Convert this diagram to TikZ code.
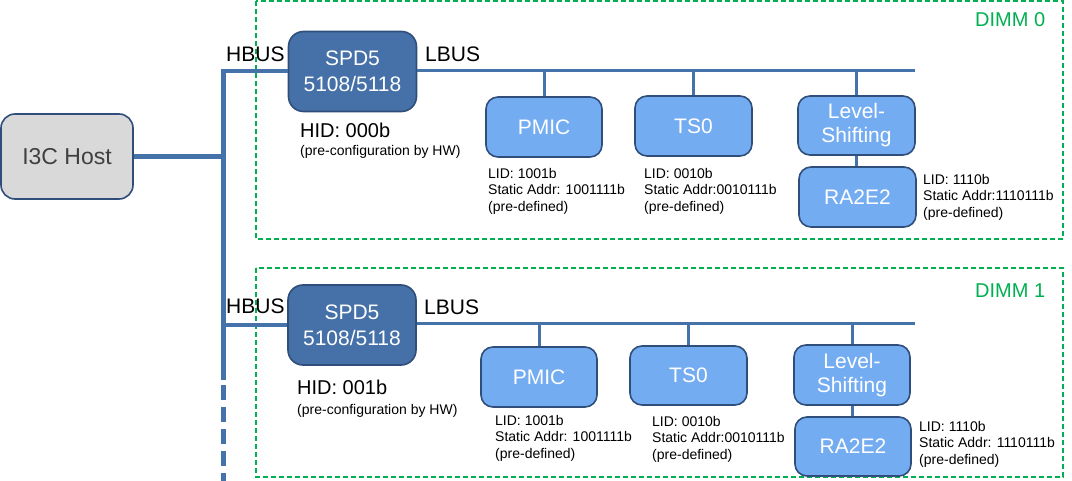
\documentclass[tikz,border=0pt]{standalone}
\usepackage{fontspec}
\setmainfont{Liberation Sans}
\definecolor{buscol}{RGB}{70,114,170}
\definecolor{darkfill}{RGB}{69,112,168}
\definecolor{boxborder}{RGB}{47,78,122}
\definecolor{lightfill}{RGB}{116,172,242}
\definecolor{hostfill}{RGB}{217,217,217}
\definecolor{hosttext}{RGB}{64,64,64}
\definecolor{dimmgreen}{RGB}{0,176,80}
\begin{document}
\begin{tikzpicture}[x=1pt,y=-1pt,
  basebox/.style={draw=boxborder,line width=1.6pt,inner sep=0pt,align=center},
  hostbox/.style={basebox,fill=hostfill,text=hosttext,rounded corners=14pt,minimum width=132pt,minimum height=85pt,font=\fontsize{23}{27}\selectfont},
  spdbox/.style={basebox,fill=darkfill,text=white,rounded corners=15pt,minimum width=128pt,minimum height=80pt,font=\fontsize{21}{26}\selectfont},
  devbox/.style={basebox,fill=lightfill,text=white,rounded corners=12pt,minimum width=116pt,minimum height=60pt,font=\fontsize{21}{24}\selectfont},
  buslbl/.style={inner sep=0pt,anchor=base west,font=\fontsize{21}{25}\selectfont},
  hidlbl/.style={inner sep=0pt,anchor=base west,font=\fontsize{20}{24}\selectfont},
  smalllbl/.style={inner sep=0pt,anchor=base west,font=\fontsize{14}{17}\selectfont},
  infolbl/.style={inner sep=0pt,anchor=north west,align=left,font=\fontsize{14}{16.7}\selectfont},
  dimmlbl/.style={inner sep=0pt,anchor=base west,text=dimmgreen,font=\fontsize{20}{24}\selectfont},
  dimmframe/.style={draw=dimmgreen,line width=2pt,dash pattern=on 5pt off 3pt},
  mainbus/.style={draw=buscol,line width=5pt},
  hbusline/.style={draw=buscol,line width=4pt},
  lbusline/.style={draw=buscol,line width=3pt},
  stubline/.style={draw=buscol,line width=3pt}
]
\useasboundingbox (0,0) rectangle (1072,481);

% DIMM frames
\draw[dimmframe] (256,1) rectangle (1063,239);
\draw[dimmframe] (256,268) rectangle (1063,477);
\node[dimmlbl] (dimm0) at (975,27) {DIMM 0};
\node[dimmlbl] (dimm1) at (975,298) {DIMM 1};

% coordinates of the host bus
\coordinate (hb0) at (223,71.5);
\coordinate (hb1) at (223,325);
\coordinate (vtop) at (223,69.5);
\coordinate (vend) at (223,380);
\coordinate (dstart) at (223,385);
\coordinate (dend) at (223,481);
\coordinate (lb0) at (915,71);
\coordinate (lb1) at (915,324);

% Host
\node[hostbox] (host) at (67,156.5) {I3C Host};

% SPD5 hubs
\node[spdbox] (spd0) at (352.5,71.5) {SPD5\\5108/5118};
\node[spdbox] (spd1) at (352,325) {SPD5\\5108/5118};

% main bus
\draw[mainbus] (vtop) -- (vend);
\draw[mainbus,dash pattern=on 15pt off 7pt] (dstart) -- (dend);
\draw[mainbus] (host.east) -- (host.east -| hb0);
\draw[hbusline] (hb0) -- (spd0.west |- hb0);
\draw[hbusline] (hb1) -- (spd1.west |- hb1);
\draw[lbusline] (spd0.east |- lb0) -- (lb0);
\draw[lbusline] (spd1.east |- lb1) -- (lb1);

% bus labels
\node[buslbl] (hbus0) at (226,62) {HBUS};
\node[buslbl] (lbus0) at (425,62) {LBUS};
\node[buslbl] (hbus1) at (226,314) {HBUS};
\node[buslbl] (lbus1) at (424,315) {LBUS};

% HID labels
\node[hidlbl] (hid0) at (300,138) {HID: 000b};
\node[smalllbl] (pc0) at (300,156) {(pre-configuration by HW)};
\node[hidlbl] (hid1) at (297,395) {HID: 001b};
\node[smalllbl] (pc1) at (297,414) {(pre-configuration by HW)};

% DIMM 0 devices
\node[devbox] (pmic0) at (544,127) {PMIC};
\node[devbox,minimum width=117pt] (ts0a) at (693.5,126) {TS0};
\node[devbox,minimum width=117pt,minimum height=59pt] (ls0) at (856.5,125.5) {Level-\\Shifting};
\node[devbox,minimum width=117pt] (ra0) at (857.5,197) {RA2E2};
\draw[stubline] (pmic0.north) -- (pmic0.north |- lb0);
\draw[stubline] (ts0a.north) -- (ts0a.north |- lb0);
\draw[stubline] (ls0.north) -- (ls0.north |- lb0);
\draw[stubline] (ls0.south) -- (ls0.south |- ra0.north);

\node[infolbl] (pmic0info) at (488,167.8) {LID: 1001b\\Static Addr: 1001111b\\(pre-defined)};
\node[infolbl] (ts0ainfo) at (644,167.8) {LID: 0010b\\Static Addr:0010111b\\(pre-defined)};
\node[infolbl] (ra0info) at (923,173.8) {LID: 1110b\\Static Addr:1110111b\\(pre-defined)};

% DIMM 1 devices
\node[devbox] (pmic1) at (539,377) {PMIC};
\node[devbox,minimum width=117pt,minimum height=59pt] (ts1a) at (688.5,375.5) {TS0};
\node[devbox] (ls1) at (852,375) {Level-\\Shifting};
\node[devbox,minimum height=59pt] (ra1) at (853,446.5) {RA2E2};
\draw[stubline] (pmic1.north) -- (pmic1.north |- lb1);
\draw[stubline] (ts1a.north) -- (ts1a.north |- lb1);
\draw[stubline] (ls1.north) -- (ls1.north |- lb1);
\draw[stubline] (ls1.south) -- (ls1.south |- ra1.north);

\node[infolbl] (pmic1info) at (495,414.8) {LID: 1001b\\Static Addr: 1001111b\\(pre-defined)};
\node[infolbl] (ts1ainfo) at (652,415.8) {LID: 0010b\\Static Addr:0010111b\\(pre-defined)};
\node[infolbl] (ra1info) at (919,420.8) {LID: 1110b\\Static Addr: 1110111b\\(pre-defined)};
\end{tikzpicture}
\end{document}
